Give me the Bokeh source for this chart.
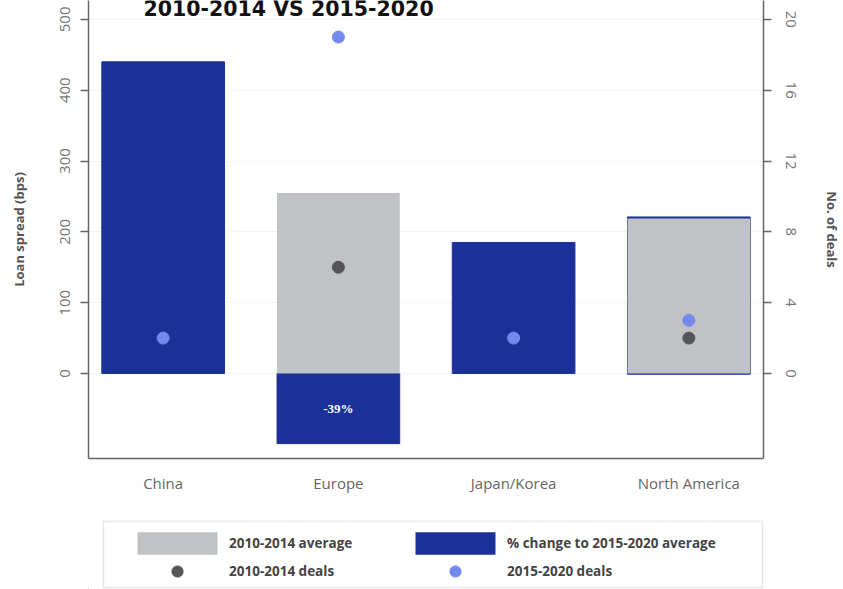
from bokeh.plotting import figure
from bokeh.layouts import column
from bokeh.models import (Range1d, LinearAxis, FixedTicker, Legend, LegendItem,
                          Label, ColumnDataSource, LabelSet)
from bokeh.embed import file_html
from bokeh.resources import INLINE

categories = ["China", "Europe", "Japan/Korea", "North America"]
avg_2010_2014 = [0, 255, 0, 219]
change_bottom = [0, -99, 0, -1]
change_top = [440, 0, 185, 221]
change_labels = ["", "-39%", "", ""]
deals_2010_2014 = [float("nan"), 6, float("nan"), 2]
deals_2015_2020 = [2, 19, 2, 3]
left_ticks = [0, 100, 200, 300, 400, 500]
right_ticks = [0, 4, 8, 12, 16, 20]

GRAY = "#c1c2c6"
BLUE = "#1b3199"
LIGHT = "#7389ee"
DARK = "#555555"
AXIS = "#666666"
FONT = "Open Sans"

xs = list(range(len(categories)))
src = ColumnDataSource(dict(
    x=xs, avg=avg_2010_2014, cb=change_bottom, ct=change_top,
    mid=[(b + t) / 2 for b, t in zip(change_bottom, change_top)],
    lab=change_labels, d1=deals_2010_2014, d2=deals_2015_2020))

p = figure(width=843, height=515, output_backend="svg", toolbar_location=None,
           x_range=Range1d(-0.426, 3.426), y_range=Range1d(-120, 526.6),
           min_border_left=88, min_border_right=77, min_border_top=0,
           min_border_bottom=57)
p.extra_y_ranges = {"deals": Range1d(-4.8, 21.064)}
p.outline_line_color = None
p.background_fill_color = "white"
p.border_fill_color = "white"

# bars
blue_r = p.vbar(x="x", bottom="cb", top="ct", width=0.7, source=src,
                fill_color=BLUE, line_color=BLUE, line_width=1)
gray_r = p.vbar(x="x", bottom=0, top="avg", width=0.7, source=src,
                fill_color=GRAY, line_color=None)

p.add_layout(LabelSet(x="x", y="mid", text="lab", source=src,
                      text_color="white", text_font=FONT, text_font_style="bold",
                      text_font_size="13px", text_align="center",
                      text_baseline="middle"))

dark_r = p.scatter(x="x", y="d1", source=src, size=12, color=DARK,
                   y_range_name="deals")
light_r = p.scatter(x="x", y="d2", source=src, size=12, color=LIGHT,
                    y_range_name="deals")

# axes
yax = p.yaxis[0]
yax.ticker = FixedTicker(ticks=left_ticks)
yax.axis_label = "Loan spread (bps)"
yax.major_label_orientation = "vertical"
yax.minor_tick_line_color = None
yax.major_tick_in = 0
yax.major_tick_out = 8
yax.major_label_standoff = 10
yax.axis_label_standoff = 30

rax = LinearAxis(y_range_name="deals", ticker=FixedTicker(ticks=right_ticks),
                 axis_label="No. of deals")
rax.major_label_orientation = "vertical"
rax.axis_label_orientation = "vertical"
rax.minor_tick_line_color = None
rax.major_tick_in = 0
rax.major_tick_out = 8
rax.major_label_standoff = 14
rax.axis_label_standoff = 24
p.add_layout(rax, "right")

xax = p.xaxis[0]
xax.ticker = FixedTicker(ticks=xs)
xax.major_label_overrides = {i: c for i, c in zip(xs, categories)}
xax.minor_tick_line_color = None
xax.major_tick_in = 0
xax.major_tick_out = 0
xax.major_label_standoff = 14

for ax in [yax, rax, xax]:
    ax.axis_line_color = AXIS
    ax.axis_line_width = 1.5
    ax.major_tick_line_color = AXIS
    ax.major_tick_line_width = 1.5
    ax.major_label_text_font = FONT
    ax.major_label_text_font_size = "15px"
    ax.major_label_text_color = "#777777"
    ax.axis_label_text_font = FONT
    ax.axis_label_text_font_size = "13px"
    ax.axis_label_text_font_style = "bold"
    ax.axis_label_text_color = "#555555"
xax.major_tick_line_color = None
xax.major_label_text_color = "#666666"

p.xgrid.grid_line_color = None
p.ygrid.ticker = FixedTicker(ticks=left_ticks)
p.ygrid.grid_line_color = "#f2f2f2"

# title
p.add_layout(Label(x=55, y=450, x_units="screen", y_units="screen",
                   text="2010-2014 VS 2015-2020", text_font="DejaVu Sans",
                   text_font_style="bold", text_font_size="20.5px",
                   text_color="#111111", text_baseline="alphabetic"))

# legend panel (separate figure; its renderers share the data but lie out of view)
lg = figure(width=843, height=74, output_backend="svg", toolbar_location=None,
            x_range=Range1d(1088, 1766), y_range=Range1d(1000, 1068),
            min_border_left=88, min_border_right=77, min_border_top=5,
            min_border_bottom=1)
lg.axis.visible = False
lg.grid.visible = False
lg.outline_line_color = None
lg.border_fill_color = "white"
lg.quad(left=1103, right=1765, bottom=1001, top=1067.5, fill_color=None,
        line_color="#e6e6e6", line_width=1.5)
lg_gray = lg.vbar(x="x", bottom=0, top="avg", width=0.7, source=src,
                  fill_color=GRAY, line_color=None)
lg_blue = lg.vbar(x="x", bottom="cb", top="ct", width=0.7, source=src,
                  fill_color=BLUE, line_color=None)
lg_dark = lg.scatter(x="x", y="d1", source=src, size=12, color=DARK)
lg_light = lg.scatter(x="x", y="d2", source=src, size=12, color=LIGHT)

legend = Legend(items=[
    LegendItem(label="2010-2014 average", renderers=[lg_gray]),
    LegendItem(label="% change to 2015-2020 average", renderers=[lg_blue]),
    LegendItem(label="2010-2014 deals", renderers=[lg_dark]),
    LegendItem(label="2015-2020 deals", renderers=[lg_light]),
], ncols=2, orientation="horizontal", location=(39, 3))
legend.glyph_width = 100
legend.glyph_height = 28
legend.label_standoff = 2
legend.label_width = 176
legend.spacing = 0
legend.padding = 0
legend.margin = 0
legend.border_line_color = None
legend.background_fill_alpha = 0
legend.label_text_font = FONT
legend.label_text_font_style = "bold"
legend.label_text_font_size = "13.5px"
legend.label_text_color = "#444444"
lg.add_layout(legend)

layout = column(p, lg, spacing=0)
open("out.html", "w").write(file_html(layout, INLINE))
